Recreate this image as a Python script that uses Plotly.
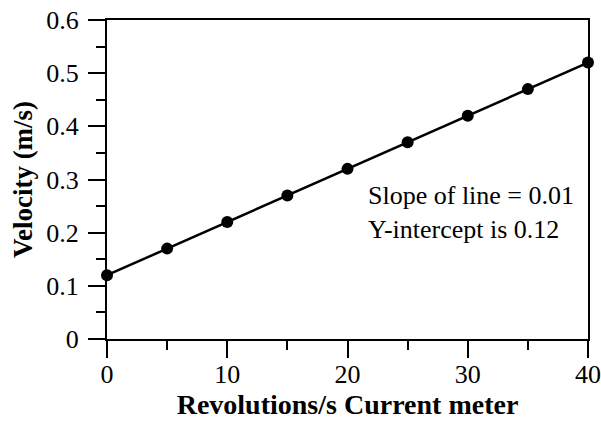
import plotly.graph_objects as go

rev_per_s = [0, 5, 10, 15, 20, 25, 30, 35, 40]
velocity = [0.12, 0.17, 0.22, 0.27, 0.32, 0.37, 0.42, 0.47, 0.52]

x_ticks = [0, 10, 20, 30, 40]
x_tick_text = ["0", "10", "20", "30", "40"]
y_ticks = [0, 0.1, 0.2, 0.3, 0.4, 0.5, 0.6]
y_tick_text = ["0", "0.1", "0.2", "0.3", "0.4", "0.5", "0.6"]

note_lines = ["Slope of line = 0.01", "Y-intercept is 0.12"]

FONT = "Liberation Serif, Times New Roman, serif"

fig = go.Figure()
fig.add_trace(go.Scatter(
    x=rev_per_s, y=velocity, mode="lines+markers",
    line=dict(color="black", width=2.5),
    marker=dict(color="black", size=12),
    showlegend=False, hoverinfo="skip", cliponaxis=False,
))

axis_common = dict(
    showline=True, linecolor="black", linewidth=2, mirror=True,
    ticks="outside", ticklen=17, tickwidth=2, tickcolor="black",
    showgrid=False, zeroline=False, automargin=False,
    ticklabeloverflow="allow",
    tickfont=dict(family=FONT, size=26, color="black"),
)

fig.update_xaxes(
    range=[0, 40], tickvals=x_ticks, ticktext=x_tick_text,
    minor=dict(dtick=5, ticks="outside", ticklen=9, tickwidth=2, tickcolor="black", tick0=0),
    title=dict(text="<b>Revolutions/s Current meter</b>",
               font=dict(family=FONT, size=28, color="black"), standoff=2),
    ticklabelstandoff=-6,
    **axis_common,
)
fig.update_yaxes(
    range=[0, 0.6], tickvals=y_ticks, ticktext=y_tick_text,
    minor=dict(dtick=0.05, ticks="outside", ticklen=9, tickwidth=2, tickcolor="black", tick0=0),
    title=dict(text="<b>Velocity (m/s)</b>",
               font=dict(family=FONT, size=27, color="black"), standoff=6),
    ticklabelstandoff=4,
    **axis_common,
)

fig.add_annotation(
    x=21.5, y=0.301, xref="x", yref="y",
    text="<br>".join(note_lines), showarrow=False,
    xanchor="left", yanchor="top", align="left",
    font=dict(family=FONT, size=26, color="black"),
)

fig.update_layout(
    width=601, height=422,
    margin=dict(l=107, r=13, t=20, b=83),
    paper_bgcolor="white", plot_bgcolor="white",
)

fig.write_html(
    "out.html",
    config={"displayModeBar": False},
    post_script="document.body.style.margin='0';document.body.style.overflow='hidden';",
)
